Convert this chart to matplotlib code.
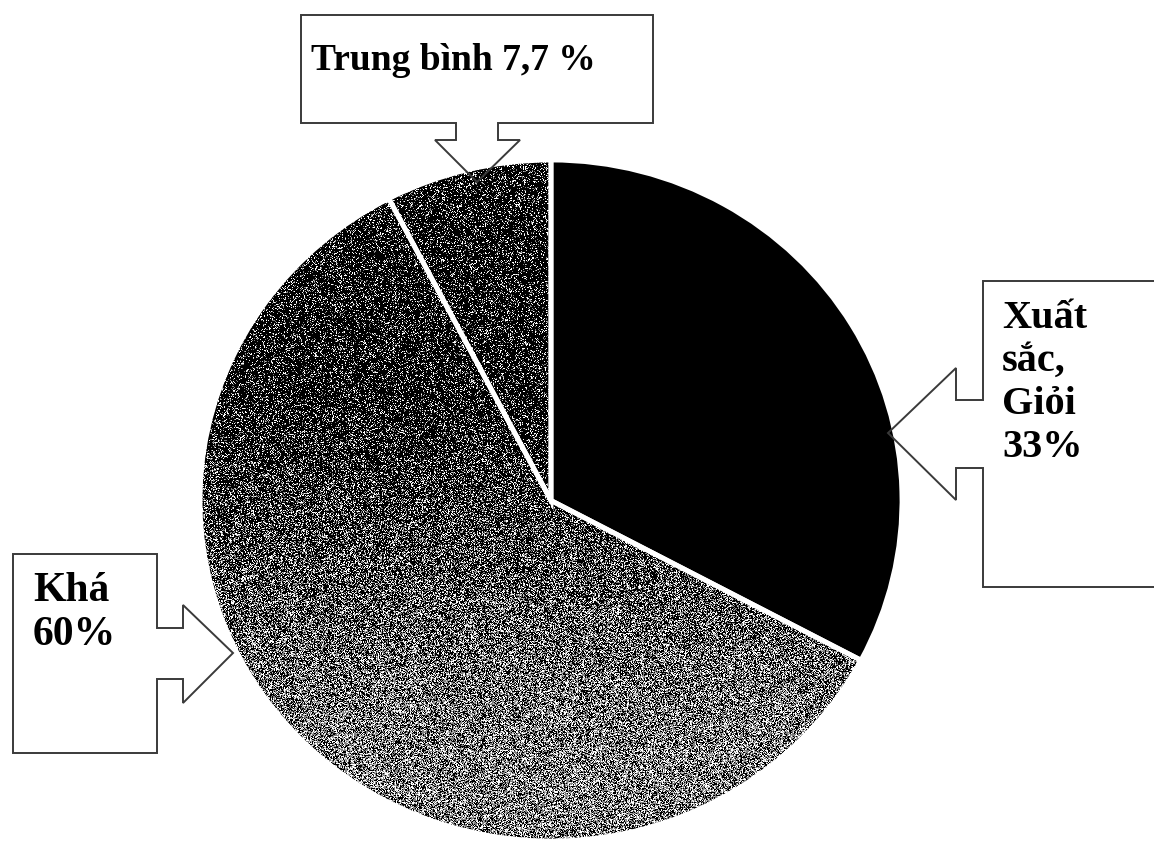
import numpy as np
import matplotlib.pyplot as plt
from matplotlib.patches import Polygon

plt.rcParams['font.family'] = ['Liberation Serif', 'DejaVu Serif']

# results by grade
labels = ['Xuất sắc, Giỏi', 'Khá', 'Trung bình']
shares = [33, 60, 7.7]
label_lines = [['Xuất', 'sắc,', 'Giỏi', '33%'], ['Khá', '60%'], ['Trung bình 7,7 %']]

W, H = 1154, 843
fig = plt.figure(figsize=(W / 100, H / 100), dpi=100)
fig.patch.set_facecolor('white')

# pie axes (slightly wider than tall, as printed)
px0, py0, pw, ph = 200, 160, 702, 681
ax = fig.add_axes([px0 / W, 1 - (py0 + ph) / H, pw / W, ph / H])
wedges, _ = ax.pie(shares, colors=['black', '#3c3c3c', '#202020'],
                   startangle=90, counterclock=False, radius=1,
                   wedgeprops=dict(linewidth=0))
ax.set_xlim(-1, 1)
ax.set_ylim(-1, 1)
ax.set_aspect('auto')
ax.axis('off')


def halftone(rows, cols, seed, dark_top):
    # grainy print texture: black / grey / white specks, lighter toward the bottom
    rng = np.random.default_rng(seed)
    r = np.arange(rows)[:, None] / rows * np.ones((1, cols))
    t = np.clip((r - 0.35) / 0.5, 0, 1) if not dark_top else np.zeros_like(r)
    u = rng.random((rows, cols))
    img = np.zeros((rows, cols))
    p_white = 0.10 + 0.14 * t
    p_grey = 0.12 + 0.30 * t
    img[u < p_white + p_grey] = 0.5
    img[u < p_white] = 1.0
    lighter = rng.random((rows, cols)) < 0.3
    img[(img == 0.5) & lighter] = 0.75
    return np.dstack([img, img, img])


for wedge, seed, dark in [(wedges[1], 3, False), (wedges[2], 5, True)]:
    im = ax.imshow(halftone(ph, pw, seed, dark), extent=(-1, 1, -1, 1),
                   aspect='auto', interpolation='nearest', zorder=2)
    im.set_clip_path(wedge)

# white gaps between slices
ax.pie(shares, colors=['none'] * 3, startangle=90, counterclock=False,
       radius=1, wedgeprops=dict(fill=False, edgecolor='white', linewidth=3.5,
                                 zorder=3))
ax.set_xlim(-1, 1)
ax.set_ylim(-1, 1)
ax.set_aspect('auto')

# overlay in pixel coordinates for the arrow callouts
ov = fig.add_axes([0, 0, 1, 1])
ov.set_xlim(0, W)
ov.set_ylim(H, 0)
ov.axis('off')
ov.patch.set_alpha(0)

callouts = {
    'Trung bình': [(301, 15), (653, 15), (653, 123), (498, 123), (498, 140),
                   (520, 140), (477, 182), (435, 140), (456, 140),
                   (456, 123), (301, 123)],
    'Xuất sắc': [(1160, 281), (983, 281), (983, 400), (956, 400), (956, 368),
                 (888, 433), (956, 500), (956, 468), (983, 468),
                 (983, 587), (1160, 587)],
    'Khá': [(13, 554), (157, 554), (157, 628), (183, 628), (183, 605),
            (233, 653), (183, 703), (183, 679), (157, 679), (157, 753),
            (13, 753)],
}
for pts in callouts.values():
    ov.add_patch(Polygon(pts, closed=True, facecolor='none',
                         edgecolor='#3a3a3a', linewidth=1.4, zorder=5))

# label text, one line at a time
text_pos = [(1002, 328, 43, 29), (33, 601, 44, 30), (311, 70, 0, 27)]
for lines, (x, y0, step, size) in zip(label_lines, text_pos):
    for i, line in enumerate(lines):
        ov.text(x, y0 + i * step, line, fontsize=size, fontweight='bold',
                va='baseline', ha='left')

fig.savefig('out.png', dpi=100)
